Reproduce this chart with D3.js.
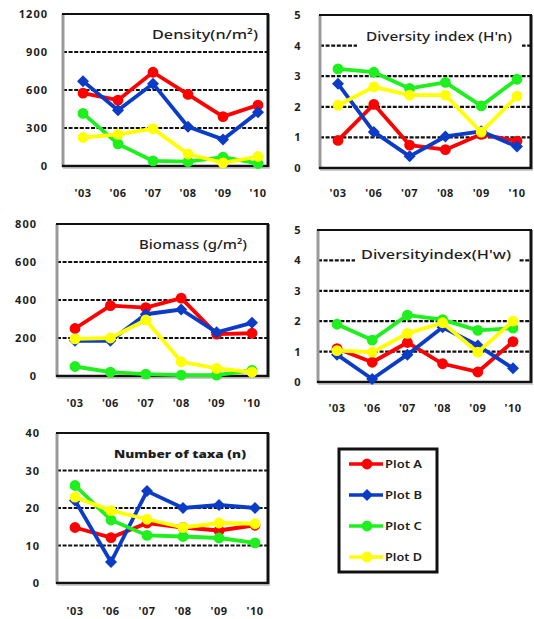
<!DOCTYPE html>
<html>
<head>
<meta charset="utf-8">
<script src="https://cdn.jsdelivr.net/npm/d3@7"></script>
<style>
  html, body { margin: 0; padding: 0; background: #fff; }
  svg { display: block; }
  text { font-family: "Noto Sans", "DejaVu Sans", sans-serif; fill: #1e1e1e; }
</style>
</head>
<body>
<svg id="chart" width="534" height="619"></svg>
<script>
// Survey years and plot names
const years = ["'03", "'06", "'07", "'08", "'09", "'10"];
const plots = ["Plot A", "Plot B", "Plot C", "Plot D"];
const plotColors = ["#ff0000", "#0a3cc8", "#1ef01e", "#ffff00"];

// Density (n/m²)
const densityA = [575, 520, 740, 565, 390, 480];
const densityB = [670, 440, 650, 310, 210, 425];
const densityC = [415, 175, 40, 35, 70, 20];
const densityD = [225, 250, 295, 95, 25, 75];
const densityTicks = [0, 300, 600, 900, 1200];

// Diversity index (H'n)
const hnA = [0.9, 2.08, 0.75, 0.6, 1.1, 0.88];
const hnB = [2.75, 1.18, 0.38, 1.03, 1.2, 0.7];
const hnC = [3.24, 3.13, 2.6, 2.8, 2.03, 2.9];
const hnD = [2.05, 2.65, 2.38, 2.38, 1.17, 2.35];
const hnTicks = [0, 1, 2, 3, 4, 5];

// Biomass (g/m²)
const biomassA = [250, 370, 360, 410, 220, 225];
const biomassB = [185, 185, 325, 350, 230, 280];
const biomassC = [50, 20, 10, 5, 5, 30];
const biomassD = [195, 200, 295, 75, 40, 20];
const biomassTicks = [0, 200, 400, 600, 800];

// Diversity index (H'w)
const hwA = [1.1, 0.65, 1.3, 0.6, 0.33, 1.33];
const hwB = [0.9, 0.1, 0.9, 1.8, 1.2, 0.45];
const hwC = [1.9, 1.38, 2.2, 2.05, 1.7, 1.77];
const hwD = [1.03, 0.98, 1.6, 1.95, 0.98, 2.0];
const hwTicks = [0, 1, 2, 3, 4, 5];

// Number of taxa (n)
const taxaA = [14.8, 12.1, 16, 14.8, 14, 15.4];
const taxaB = [22, 5.6, 24.5, 20, 20.8, 20];
const taxaC = [26, 16.8, 12.7, 12.4, 12, 10.7];
const taxaD = [22.9, 19.3, 17, 14.8, 16, 15.8];
const taxaTicks = [0, 10, 20, 30, 40];

const svg = d3.select("#chart");

// marker shapes: Plot B uses a square diamond, the others round dots
const markerPath = i => i === 1
  ? d3.symbol().type(d3.symbolSquare).size(72)()
  : d3.symbol().type(d3.symbolCircle).size(92)();
const markerRot = i => (i === 1 ? " rotate(45)" : "");

const panels = [
  { title: "Density(n/m²)", series: [densityA, densityB, densityC, densityD], ticks: densityTicks,
    box: [63, 14, 268, 166], pts: [83, 258], yLabelX: 48, xLabelY: 197,
    titleX: 205, titleY: 39, titleW: 106, titleBox: [150, 24, 262, 46], bold: false },
  { title: "Diversity index (H'n)", series: [hnA, hnB, hnC, hnD], ticks: hnTicks,
    box: [320, 15, 531, 168], pts: [338, 517], yLabelX: 298, xLabelY: 197,
    titleX: 439, titleY: 41, titleW: 146, titleBox: [357, 26, 522, 50], bold: false },
  { title: "Biomass (g/m²)", series: [biomassA, biomassB, biomassC, biomassD], ticks: biomassTicks,
    box: [57, 224, 268, 376], pts: [75, 252], yLabelX: 37, xLabelY: 407,
    titleX: 193, titleY: 249, titleW: 108, titleBox: [136, 236, 250, 258], bold: false },
  { title: "Diversityindex(H'w)", series: [hwA, hwB, hwC, hwD], ticks: hwTicks,
    box: [318, 230, 531, 382], pts: [337, 513], yLabelX: 298, xLabelY: 412,
    titleX: 436, titleY: 259, titleW: 150, titleBox: [355, 244, 519, 268], bold: false },
  { title: "Number of taxa (n)", series: [taxaA, taxaB, taxaC, taxaD], ticks: taxaTicks,
    box: [57, 433, 268, 583], pts: [75, 255], yLabelX: 40, xLabelY: 615,
    titleX: 180, titleY: 458, titleW: 132, titleBox: [110, 444, 250, 464], bold: true }
];

panels.forEach(p => {
  const [x0, y0, x1, y1] = p.box;
  const g = svg.append("g");
  const yMax = d3.max(p.ticks);
  const x = d3.scalePoint().domain(years).range(p.pts);
  const y = d3.scaleLinear().domain([0, yMax]).range([y1, y0]);

  // white plot area
  g.append("rect").attr("x", x0).attr("y", y0).attr("width", x1 - x0).attr("height", y1 - y0)
    .attr("fill", "#fff");

  // dashed gridlines (inner ticks only)
  g.selectAll(".grid").data(p.ticks.filter(t => t > 0 && t < yMax)).join("line")
    .attr("x1", x0).attr("x2", x1)
    .attr("y1", d => y(d)).attr("y2", d => y(d))
    .attr("stroke", "#111").attr("stroke-width", 2.2).attr("stroke-dasharray", "4,1.6");

  // title on a white patch
  const [bx0, by0, bx1, by1] = p.titleBox;
  g.append("rect").attr("x", bx0).attr("y", by0).attr("width", bx1 - bx0).attr("height", by1 - by0)
    .attr("fill", "#fff");
  g.append("text").attr("x", p.titleX).attr("y", p.titleY)
    .attr("text-anchor", "middle")
    .attr("font-size", p.bold ? 11 : 12.5)
    .attr("font-weight", p.bold ? 900 : 500)
    .attr("textLength", p.titleW).attr("lengthAdjust", "spacingAndGlyphs")
    .text(p.title);

  // frame: grey left edge, black top/right/bottom
  g.append("line").attr("x1", x0).attr("x2", x0).attr("y1", y0).attr("y2", y1 + 1)
    .attr("stroke", "#9a9a9a").attr("stroke-width", 3);
  g.append("line").attr("x1", x0 - 1).attr("x2", x1 + 1).attr("y1", y0).attr("y2", y0)
    .attr("stroke", "#111").attr("stroke-width", 2);
  g.append("line").attr("x1", x1).attr("x2", x1).attr("y1", y0).attr("y2", y1 + 1)
    .attr("stroke", "#111").attr("stroke-width", 3);
  g.append("line").attr("x1", x0 - 1).attr("x2", x1 + 1).attr("y1", y1).attr("y2", y1)
    .attr("stroke", "#111").attr("stroke-width", 2.5);
  g.append("line").attr("x1", x0).attr("x2", x1 + 2).attr("y1", y1 + 2).attr("y2", y1 + 2)
    .attr("stroke", "#999").attr("stroke-width", 1.2);

  // y tick labels
  g.selectAll(".ylab").data(p.ticks).join("text")
    .attr("x", p.yLabelX).attr("y", d => y(d) + 4)
    .attr("text-anchor", p.yLabelX > 200 ? "middle" : "end")
    .attr("font-size", 11).attr("font-weight", 700).attr("letter-spacing", 1)
    .text(d => d);

  // x tick labels
  g.selectAll(".xlab").data(years).join("text")
    .attr("x", d => x(d)).attr("y", p.xLabelY)
    .attr("text-anchor", "middle")
    .attr("font-size", 11).attr("font-weight", 700).attr("letter-spacing", 0.5)
    .text(d => d);

  // series lines and markers
  const line = d3.line().x((d, i) => x(years[i])).y(d => y(d));
  p.series.forEach((vals, si) => {
    const col = plotColors[si];
    g.append("path").datum(vals).attr("d", line)
      .attr("fill", "none").attr("stroke", col).attr("stroke-width", 3.8)
      .attr("stroke-linejoin", "round");
    g.selectAll(".m" + si).data(vals).join("path")
      .attr("transform", (d, i) => `translate(${x(years[i])},${y(d)})${markerRot(si)}`)
      .attr("d", markerPath(si))
      .attr("fill", col);
  });
});

// legend
const lg = svg.append("g");
lg.append("rect").attr("x", 339).attr("y", 449).attr("width", 98).attr("height", 123)
  .attr("fill", "#fff").attr("stroke", "#111").attr("stroke-width", 3);
const ly = d3.scalePoint().domain(plots).range([464, 557]);
plots.forEach((name, i) => {
  const yy = ly(name);
  lg.append("line").attr("x1", 349).attr("x2", 383).attr("y1", yy).attr("y2", yy)
    .attr("stroke", plotColors[i]).attr("stroke-width", 3.6);
  lg.append("path").attr("transform", `translate(367,${yy})${markerRot(i)}`)
    .attr("d", markerPath(i))
    .attr("fill", plotColors[i]);
  lg.append("text").attr("x", 385).attr("y", yy + 4)
    .attr("font-size", 11).attr("font-weight", 600)
    .attr("textLength", 37).attr("lengthAdjust", "spacingAndGlyphs")
    .text(name);
});
</script>
</body>
</html>
